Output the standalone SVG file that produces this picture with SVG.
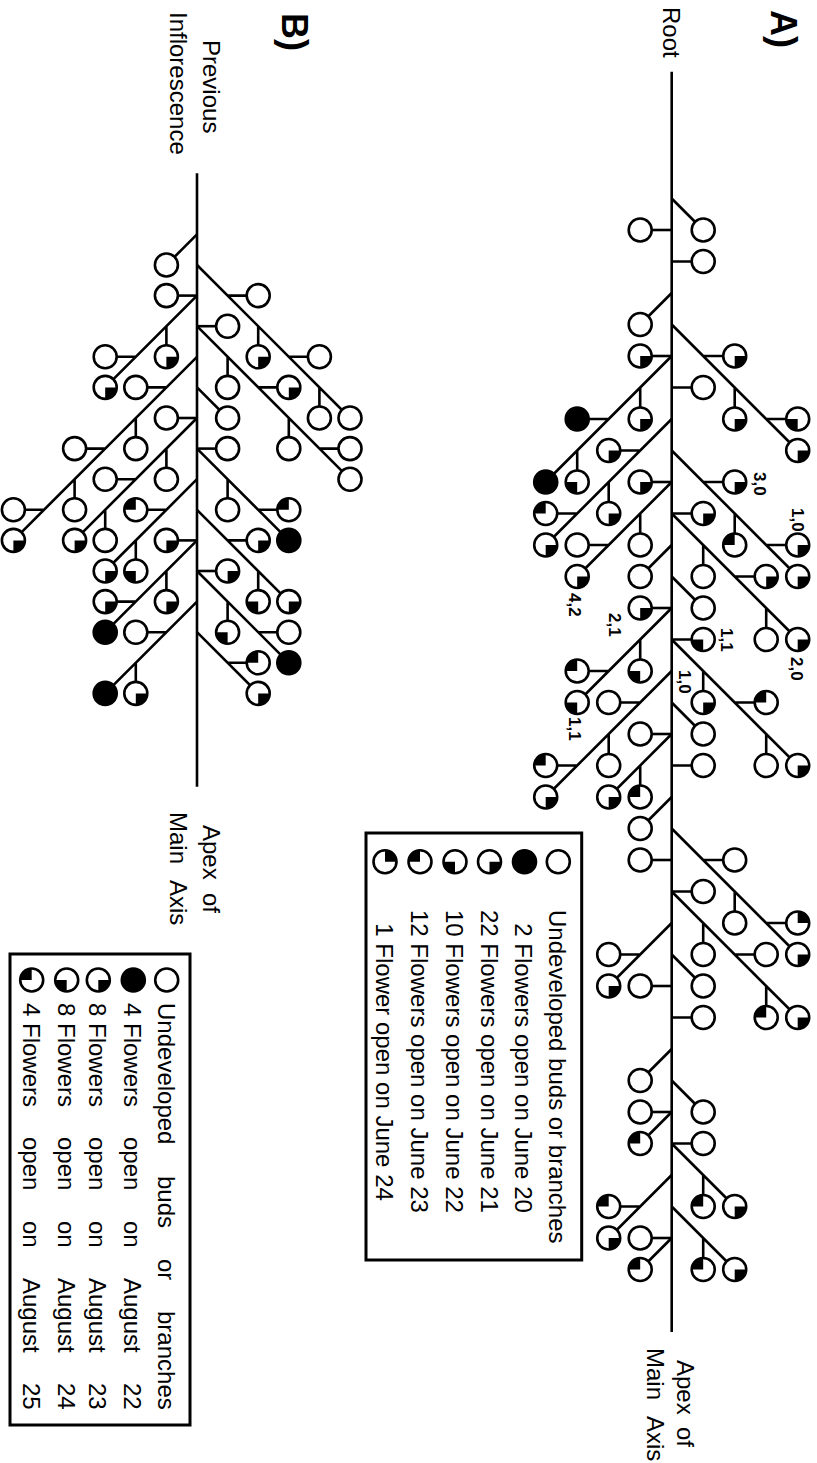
<svg xmlns="http://www.w3.org/2000/svg" xmlns:xlink="http://www.w3.org/1999/xlink" width="817" height="1463" viewBox="0 0 817 1463">
<style>
.ln{stroke:#000;stroke-width:2.6;fill:none}
.bx{stroke:#000;stroke-width:3;fill:none}
.t{font-family:"Liberation Sans",Arial,Helvetica,sans-serif;font-size:24px;fill:#000}
.lb{font-family:"Liberation Sans",Arial,Helvetica,sans-serif;font-size:17px;font-weight:bold;fill:#000}
.hd{font-family:"Liberation Sans",Arial,Helvetica,sans-serif;font-size:36px;font-weight:bold;fill:#000}
</style>
<defs>
<g id="o"><circle r="11.5" fill="#fff" stroke="#000" stroke-width="2.6"/></g>
<g id="f"><circle r="11.5" fill="#000" stroke="#000" stroke-width="2.6"/></g>
<g id="br"><circle r="11.5" fill="#fff"/><path d="M0,0H11.5A11.5,11.5 0 0 1 0,11.5Z"/><circle r="11.5" fill="none" stroke="#000" stroke-width="2.6"/></g>
<g id="bl"><circle r="11.5" fill="#fff"/><path d="M0,0V11.5A11.5,11.5 0 0 1 -11.5,0Z"/><circle r="11.5" fill="none" stroke="#000" stroke-width="2.6"/></g>
<g id="tl"><circle r="11.5" fill="#fff"/><path d="M0,0H-11.5A11.5,11.5 0 0 1 0,-11.5Z"/><circle r="11.5" fill="none" stroke="#000" stroke-width="2.6"/></g>
<g id="tr"><circle r="11.5" fill="#fff"/><path d="M0,0V-11.5A11.5,11.5 0 0 1 11.5,0Z"/><circle r="11.5" fill="none" stroke="#000" stroke-width="2.6"/></g>
</defs>
<rect width="817" height="1463" fill="#fff"/>

<!-- ===== A ===== -->
<g id="labels-a">
<text class="hd" transform="translate(771,10) rotate(90)">A)</text>
<text class="t" transform="translate(663,7) rotate(90)">Root</text>
<text class="t" transform="translate(677,1360) rotate(90)">Apex</text>
<text class="t" transform="translate(677,1427) rotate(90)">of</text>
<text class="t" transform="translate(647,1348) rotate(90)">Main</text>
<text class="t" transform="translate(647,1416) rotate(90)">Axis</text>
<text class="lb" transform="translate(754,472) rotate(90)">3,0</text>
<text class="lb" transform="translate(792,508) rotate(90)">1,0</text>
<text class="lb" transform="translate(791,657) rotate(90)">2,0</text>
<text class="lb" transform="translate(721,628) rotate(90)">1,1</text>
<text class="lb" transform="translate(679,670) rotate(90)">1,0</text>
<text class="lb" transform="translate(569,593) rotate(90)">4,2</text>
<text class="lb" transform="translate(609,613) rotate(90)">2,1</text>
<text class="lb" transform="translate(569,717) rotate(90)">1,1</text>
</g>

<g id="connectors-a">
<path class="ln" d="M671.7,71.7V1332"/>
<path class="ln" d="M671.7,198.5L703.2,230"/>
<path class="ln" d="M671.7,230H640.2"/>
<path class="ln" d="M671.7,261.5H703.2"/>
<path class="ln" d="M671.7,293L640.2,324.5"/>
<path class="ln" d="M671.7,324.5L797.7,450.5M703.2,356H734.7M734.7,387.5V419M766.2,419H797.7"/>
<path class="ln" d="M671.7,356H640.2"/>
<path class="ln" d="M671.7,387.5H703.2"/>
<path class="ln" d="M671.7,356L545.7,482M640.2,387.5V419M608.7,419H577.2M577.2,450.5V482"/>
<path class="ln" d="M671.7,419L545.7,545M640.2,450.5H608.7M608.7,482V513.5M577.2,513.5H545.7"/>
<path class="ln" d="M671.7,482H640.2"/>
<path class="ln" d="M671.7,482L577.2,576.5M640.2,513.5V545M608.7,545H577.2"/>
<path class="ln" d="M671.7,450.5L797.7,576.5M703.2,482H734.7M734.7,513.5V545M766.2,545H797.7"/>
<path class="ln" d="M671.7,513.5H703.2"/>
<path class="ln" d="M671.7,513.5L797.7,639.5M703.2,545V576.5M734.7,576.5H766.2M766.2,608V639.5"/>
<path class="ln" d="M671.7,545L640.2,576.5"/>
<path class="ln" d="M671.7,608H640.2"/>
<path class="ln" d="M671.7,576.5L703.2,608"/>
<path class="ln" d="M671.7,639.5H703.2"/>
<path class="ln" d="M671.7,608L577.2,702.5M640.2,639.5V671M608.7,671H577.2"/>
<path class="ln" d="M671.7,639.5L797.7,765.5M703.2,671V702.5M734.7,702.5H766.2M766.2,734V765.5"/>
<path class="ln" d="M671.7,671L545.7,797M640.2,702.5H608.7M608.7,734V765.5M577.2,765.5H545.7"/>
<path class="ln" d="M671.7,734H640.2"/>
<path class="ln" d="M671.7,734L608.7,797M640.2,765.5V797"/>
<path class="ln" d="M671.7,702.5L703.2,734"/>
<path class="ln" d="M671.7,765.5H703.2"/>
<path class="ln" d="M671.7,797L640.2,828.5"/>
<path class="ln" d="M671.7,860H640.2"/>
<path class="ln" d="M671.7,828.5L797.7,954.5M703.2,860H734.7M734.7,891.5V923M766.2,923H797.7"/>
<path class="ln" d="M671.7,891.5H703.2"/>
<path class="ln" d="M671.7,891.5L797.7,1017.5M703.2,923V954.5M734.7,954.5H766.2M766.2,986V1017.5"/>
<path class="ln" d="M671.7,923L608.7,986M640.2,954.5H608.7"/>
<path class="ln" d="M671.7,986H640.2"/>
<path class="ln" d="M671.7,954.5L703.2,986"/>
<path class="ln" d="M671.7,1017.5H703.2"/>
<path class="ln" d="M671.7,1049L640.2,1080.5"/>
<path class="ln" d="M671.7,1112H640.2"/>
<path class="ln" d="M671.7,1112L640.2,1143.5"/>
<path class="ln" d="M671.7,1080.5L703.2,1112"/>
<path class="ln" d="M671.7,1143.5H703.2"/>
<path class="ln" d="M671.7,1143.5L734.7,1206.5M703.2,1175V1206.5"/>
<path class="ln" d="M671.7,1206.5L734.7,1269.5M703.2,1238V1269.5"/>
<path class="ln" d="M671.7,1175L608.7,1238M640.2,1206.5H608.7"/>
<path class="ln" d="M671.7,1238H640.2"/>
<path class="ln" d="M671.7,1238L640.2,1269.5"/>
</g>

<g id="nodes-a">
<g id="a1"><use href="#o" x="703.2" y="230"/></g>
<g id="a2"><use href="#o" x="640.2" y="230"/></g>
<g id="a3"><use href="#o" x="703.2" y="261.5"/></g>
<g id="a4"><use href="#o" x="640.2" y="324.5"/></g>
<g id="a5"><use href="#br" x="734.7" y="356"/></g>
<g id="a6"><use href="#br" x="734.7" y="419"/></g>
<g id="a7"><use href="#bl" x="797.7" y="419"/></g>
<g id="a8"><use href="#br" x="797.7" y="450.5"/></g>
<g id="a9"><use href="#br" x="640.2" y="356"/></g>
<g id="a10"><use href="#o" x="703.2" y="387.5"/></g>
<g id="a11"><use href="#br" x="640.2" y="419"/></g>
<g id="a12"><use href="#f" x="577.2" y="419"/></g>
<g id="a13"><use href="#bl" x="577.2" y="482"/></g>
<g id="a14"><use href="#f" x="545.7" y="482"/></g>
<g id="a15"><use href="#br" x="608.7" y="450.5"/></g>
<g id="a16"><use href="#br" x="608.7" y="513.5"/></g>
<g id="a17"><use href="#tl" x="545.7" y="513.5"/></g>
<g id="a18"><use href="#br" x="545.7" y="545"/></g>
<g id="a19"><use href="#br" x="640.2" y="482"/></g>
<g id="a20"><use href="#o" x="640.2" y="545"/></g>
<g id="a21"><use href="#o" x="577.2" y="545"/></g>
<g id="a22"><use href="#br" x="577.2" y="576.5"/></g>
<g id="a23"><use href="#br" x="734.7" y="482"/></g>
<g id="a24"><use href="#tl" x="734.7" y="545"/></g>
<g id="a25"><use href="#br" x="797.7" y="545"/></g>
<g id="a26"><use href="#br" x="797.7" y="576.5"/></g>
<g id="a27"><use href="#br" x="703.2" y="513.5"/></g>
<g id="a28"><use href="#o" x="703.2" y="576.5"/></g>
<g id="a29"><use href="#br" x="766.2" y="576.5"/></g>
<g id="a30"><use href="#o" x="766.2" y="639.5"/></g>
<g id="a31"><use href="#br" x="797.7" y="639.5"/></g>
<g id="a32"><use href="#o" x="640.2" y="576.5"/></g>
<g id="a33"><use href="#br" x="640.2" y="608"/></g>
<g id="a34"><use href="#o" x="703.2" y="608"/></g>
<g id="a35"><use href="#bl" x="703.2" y="639.5"/></g>
<g id="a36"><use href="#bl" x="640.2" y="671"/></g>
<g id="a37"><use href="#tl" x="577.2" y="671"/></g>
<g id="a38"><use href="#bl" x="577.2" y="702.5"/></g>
<g id="a39"><use href="#br" x="703.2" y="702.5"/></g>
<g id="a40"><use href="#tl" x="766.2" y="702.5"/></g>
<g id="a41"><use href="#o" x="766.2" y="765.5"/></g>
<g id="a42"><use href="#br" x="797.7" y="765.5"/></g>
<g id="a43"><use href="#o" x="608.7" y="702.5"/></g>
<g id="a44"><use href="#o" x="608.7" y="765.5"/></g>
<g id="a45"><use href="#tl" x="545.7" y="765.5"/></g>
<g id="a46"><use href="#br" x="545.7" y="797"/></g>
<g id="a47"><use href="#o" x="640.2" y="734"/></g>
<g id="a48"><use href="#tl" x="640.2" y="797"/></g>
<g id="a49"><use href="#br" x="608.7" y="797"/></g>
<g id="a50"><use href="#o" x="703.2" y="734"/></g>
<g id="a51"><use href="#o" x="703.2" y="765.5"/></g>
<g id="a52"><use href="#o" x="640.2" y="828.5"/></g>
<g id="a53"><use href="#o" x="640.2" y="860"/></g>
<g id="a54"><use href="#o" x="734.7" y="860"/></g>
<g id="a55"><use href="#o" x="734.7" y="923"/></g>
<g id="a56"><use href="#tr" x="797.7" y="923"/></g>
<g id="a57"><use href="#br" x="797.7" y="954.5"/></g>
<g id="a58"><use href="#o" x="703.2" y="891.5"/></g>
<g id="a59"><use href="#o" x="703.2" y="954.5"/></g>
<g id="a60"><use href="#o" x="766.2" y="954.5"/></g>
<g id="a61"><use href="#tl" x="766.2" y="1017.5"/></g>
<g id="a62"><use href="#br" x="797.7" y="1017.5"/></g>
<g id="a63"><use href="#o" x="608.7" y="954.5"/></g>
<g id="a64"><use href="#br" x="608.7" y="986"/></g>
<g id="a65"><use href="#o" x="640.2" y="986"/></g>
<g id="a66"><use href="#o" x="703.2" y="986"/></g>
<g id="a67"><use href="#o" x="703.2" y="1017.5"/></g>
<g id="a68"><use href="#o" x="640.2" y="1080.5"/></g>
<g id="a69"><use href="#o" x="640.2" y="1112"/></g>
<g id="a70"><use href="#tl" x="640.2" y="1143.5"/></g>
<g id="a71"><use href="#o" x="703.2" y="1112"/></g>
<g id="a72"><use href="#o" x="703.2" y="1143.5"/></g>
<g id="a73"><use href="#tl" x="703.2" y="1206.5"/></g>
<g id="a74"><use href="#br" x="734.7" y="1206.5"/></g>
<g id="a75"><use href="#tl" x="703.2" y="1269.5"/></g>
<g id="a76"><use href="#br" x="734.7" y="1269.5"/></g>
<g id="a77"><use href="#tl" x="608.7" y="1206.5"/></g>
<g id="a78"><use href="#br" x="608.7" y="1238"/></g>
<g id="a79"><use href="#o" x="640.2" y="1238"/></g>
<g id="a80"><use href="#tl" x="640.2" y="1269.5"/></g>
</g>

<g id="legend-a">
<rect class="bx" x="366" y="833" width="215.7" height="427"/>
<use href="#o" x="558.3" y="861.7"/>
<use href="#f" x="524.5" y="861.7"/>
<use href="#br" x="489.5" y="861.7"/>
<use href="#bl" x="455" y="861.7"/>
<use href="#tl" x="420" y="861.7"/>
<use href="#tr" x="385" y="861.7"/>
<text class="t" transform="translate(549,910) rotate(90)">Undeveloped buds or branches</text>
<text class="t" transform="translate(515,923.3) rotate(90)">2 Flowers open on June 20</text>
<text class="t" transform="translate(480.5,910) rotate(90)">22 Flowers open on June 21</text>
<text class="t" transform="translate(446,910) rotate(90)">10 Flowers open on June 22</text>
<text class="t" transform="translate(411,910) rotate(90)">12 Flowers open on June 23</text>
<text class="t" transform="translate(376,923.3) rotate(90)">1 Flower open on June 24</text>
</g>

<!-- ===== B ===== -->
<g id="labels-b">
<text class="hd" transform="translate(282,13) rotate(90)">B)</text>
<text class="t" transform="translate(203,40) rotate(90)">Previous</text>
<text class="t" transform="translate(170,12) rotate(90)">Inflorescence</text>
<text class="t" transform="translate(203,825) rotate(90)">Apex</text>
<text class="t" transform="translate(203,893) rotate(90)">of</text>
<text class="t" transform="translate(170,812) rotate(90)">Main</text>
<text class="t" transform="translate(170,880) rotate(90)">Axis</text>
</g>

<g id="connectors-b">
<path class="ln" d="M197,173.3V786.7"/>
<path class="ln" d="M197,234.4L166.4,265"/>
<path class="ln" d="M197,265L350,418M227.6,295.6H258.2M258.2,326.2V356.8M288.8,356.8H319.4M319.4,387.4V418"/>
<path class="ln" d="M197,295.6H166.4"/>
<path class="ln" d="M197,295.6L105.2,387.4M166.4,326.2V356.8M135.8,356.8H105.2"/>
<path class="ln" d="M197,326.2H227.6"/>
<path class="ln" d="M197,326.2L350,479.2M227.6,356.8V387.4M258.2,387.4H288.8M288.8,418V448.6M319.4,448.6H350"/>
<path class="ln" d="M197,356.8L13.4,540.4M166.4,387.4H135.8M135.8,418V448.6M105.2,448.6H74.6M74.6,479.2V509.8M44,509.8H13.4"/>
<path class="ln" d="M197,387.4L227.6,418"/>
<path class="ln" d="M197,418H166.4"/>
<path class="ln" d="M197,418L74.6,540.4M166.4,448.6V479.2M135.8,479.2H105.2M105.2,509.8V540.4"/>
<path class="ln" d="M197,448.6H227.6"/>
<path class="ln" d="M197,448.6L288.8,540.4M227.6,479.2V509.8M258.2,509.8H288.8"/>
<path class="ln" d="M197,479.2L105.2,571M166.4,509.8H135.8M135.8,540.4V571"/>
<path class="ln" d="M197,509.8L288.8,601.6M227.6,540.4H258.2M258.2,571V601.6"/>
<path class="ln" d="M197,540.4H166.4"/>
<path class="ln" d="M197,540.4L105.2,632.2M166.4,571V601.6M135.8,601.6H105.2"/>
<path class="ln" d="M197,571H227.6"/>
<path class="ln" d="M197,571L288.8,662.8M227.6,601.6V632.2M258.2,632.2H288.8"/>
<path class="ln" d="M197,601.6L105.2,693.4M166.4,632.2H135.8M135.8,662.8V693.4"/>
<path class="ln" d="M197,632.2L258.2,693.4M227.6,662.8H258.2"/>
</g>

<g id="nodes-b">
<g id="b1"><use href="#o" x="166.4" y="265"/></g>
<g id="b2"><use href="#o" x="258.2" y="295.6"/></g>
<g id="b3"><use href="#br" x="258.2" y="356.8"/></g>
<g id="b4"><use href="#o" x="319.4" y="356.8"/></g>
<g id="b5"><use href="#o" x="319.4" y="418"/></g>
<g id="b6"><use href="#o" x="350" y="418"/></g>
<g id="b7"><use href="#o" x="166.4" y="295.6"/></g>
<g id="b8"><use href="#br" x="166.4" y="356.8"/></g>
<g id="b9"><use href="#o" x="105.2" y="356.8"/></g>
<g id="b10"><use href="#br" x="105.2" y="387.4"/></g>
<g id="b11"><use href="#o" x="227.6" y="326.2"/></g>
<g id="b12"><use href="#o" x="227.6" y="387.4"/></g>
<g id="b13"><use href="#br" x="288.8" y="387.4"/></g>
<g id="b14"><use href="#o" x="288.8" y="448.6"/></g>
<g id="b15"><use href="#o" x="350" y="448.6"/></g>
<g id="b16"><use href="#o" x="350" y="479.2"/></g>
<g id="b17"><use href="#o" x="135.8" y="387.4"/></g>
<g id="b18"><use href="#o" x="135.8" y="448.6"/></g>
<g id="b19"><use href="#o" x="74.6" y="448.6"/></g>
<g id="b20"><use href="#o" x="74.6" y="509.8"/></g>
<g id="b21"><use href="#o" x="13.4" y="509.8"/></g>
<g id="b22"><use href="#br" x="13.4" y="540.4"/></g>
<g id="b23"><use href="#o" x="227.6" y="418"/></g>
<g id="b24"><use href="#o" x="166.4" y="418"/></g>
<g id="b25"><use href="#o" x="166.4" y="479.2"/></g>
<g id="b26"><use href="#o" x="105.2" y="479.2"/></g>
<g id="b27"><use href="#o" x="105.2" y="540.4"/></g>
<g id="b28"><use href="#br" x="74.6" y="540.4"/></g>
<g id="b29"><use href="#o" x="227.6" y="448.6"/></g>
<g id="b30"><use href="#o" x="227.6" y="509.8"/></g>
<g id="b31"><use href="#tl" x="288.8" y="509.8"/></g>
<g id="b32"><use href="#f" x="288.8" y="540.4"/></g>
<g id="b33"><use href="#tl" x="135.8" y="509.8"/></g>
<g id="b34"><use href="#bl" x="135.8" y="571"/></g>
<g id="b35"><use href="#br" x="105.2" y="571"/></g>
<g id="b36"><use href="#br" x="258.2" y="540.4"/></g>
<g id="b37"><use href="#bl" x="258.2" y="601.6"/></g>
<g id="b38"><use href="#br" x="288.8" y="601.6"/></g>
<g id="b39"><use href="#br" x="166.4" y="540.4"/></g>
<g id="b40"><use href="#br" x="166.4" y="601.6"/></g>
<g id="b41"><use href="#br" x="105.2" y="601.6"/></g>
<g id="b42"><use href="#f" x="105.2" y="632.2"/></g>
<g id="b43"><use href="#br" x="227.6" y="571"/></g>
<g id="b44"><use href="#bl" x="227.6" y="632.2"/></g>
<g id="b45"><use href="#o" x="288.8" y="632.2"/></g>
<g id="b46"><use href="#f" x="288.8" y="662.8"/></g>
<g id="b47"><use href="#o" x="135.8" y="632.2"/></g>
<g id="b48"><use href="#br" x="135.8" y="693.4"/></g>
<g id="b49"><use href="#f" x="105.2" y="693.4"/></g>
<g id="b50"><use href="#tl" x="258.2" y="662.8"/></g>
<g id="b51"><use href="#br" x="258.2" y="693.4"/></g>
</g>

<g id="legend-b">
<rect class="bx" x="10" y="954" width="180" height="471"/>
<use href="#o" x="166.7" y="980"/>
<use href="#f" x="133.3" y="980"/>
<use href="#br" x="98.3" y="980"/>
<use href="#bl" x="66.7" y="980"/>
<use href="#tl" x="31.7" y="980"/>
<text class="t" transform="translate(157.7,1003) rotate(90)">Undeveloped</text>
<text class="t" transform="translate(157.7,1176) rotate(90)">buds</text>
<text class="t" transform="translate(157.7,1259) rotate(90)">or</text>
<text class="t" transform="translate(157.7,1311) rotate(90)">branches</text>
<text class="t" transform="translate(124.3,1003) rotate(90)">4 Flowers</text>
<text class="t" transform="translate(124.3,1137) rotate(90)">open</text>
<text class="t" transform="translate(124.3,1221) rotate(90)">on</text>
<text class="t" transform="translate(124.3,1278) rotate(90)">August</text>
<text class="t" transform="translate(124.3,1383) rotate(90)">22</text>
<text class="t" transform="translate(89.3,1003) rotate(90)">8 Flowers</text>
<text class="t" transform="translate(89.3,1137) rotate(90)">open</text>
<text class="t" transform="translate(89.3,1221) rotate(90)">on</text>
<text class="t" transform="translate(89.3,1278) rotate(90)">August</text>
<text class="t" transform="translate(89.3,1383) rotate(90)">23</text>
<text class="t" transform="translate(57.7,1003) rotate(90)">8 Flowers</text>
<text class="t" transform="translate(57.7,1137) rotate(90)">open</text>
<text class="t" transform="translate(57.7,1221) rotate(90)">on</text>
<text class="t" transform="translate(57.7,1278) rotate(90)">August</text>
<text class="t" transform="translate(57.7,1383) rotate(90)">24</text>
<text class="t" transform="translate(22.7,1003) rotate(90)">4 Flowers</text>
<text class="t" transform="translate(22.7,1137) rotate(90)">open</text>
<text class="t" transform="translate(22.7,1221) rotate(90)">on</text>
<text class="t" transform="translate(22.7,1278) rotate(90)">August</text>
<text class="t" transform="translate(22.7,1383) rotate(90)">25</text>
</g>
</svg>
